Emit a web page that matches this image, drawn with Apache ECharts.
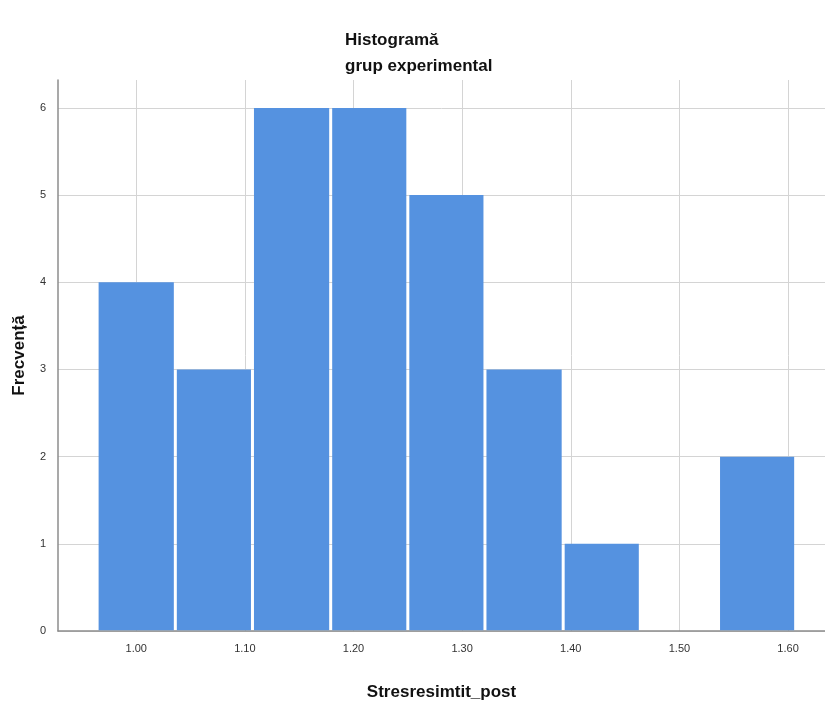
<!DOCTYPE html>
<html>
<head>
<meta charset="utf-8">
<script src="https://cdn.jsdelivr.net/npm/echarts@6/dist/echarts.min.js"></script>
<style>html,body{margin:0;padding:0;background:#fff}#c{width:825px;height:702px}</style>
</head>
<body>
<div id="c"></div>
<script>
// Bin edges (lower, upper) and counts
const binLow  = [0.964, 1.036, 1.107, 1.179, 1.250, 1.321, 1.393, 1.464, 1.536];
const binHigh = [1.036, 1.107, 1.179, 1.250, 1.321, 1.393, 1.464, 1.536, 1.607];
const counts  = [4, 3, 6, 6, 5, 3, 1, 0, 2];
const xTicks  = [1.0, 1.1, 1.2, 1.3, 1.4, 1.5, 1.6];
const yTicks  = [0, 1, 2, 3, 4, 5, 6];
const titleText = 'Histogramă\ngrup experimental';
const xName = 'Stresresimtit_post';
const yName = 'Frecvență';

const data = binLow.map((lo, i) => [lo, binHigh[i], counts[i]]);

const chart = echarts.init(document.getElementById('c'));
chart.setOption({
  animation: false,
  backgroundColor: '#fff',
  title: {
    text: titleText,
    left: 340, top: 22,
    textStyle: { fontFamily: 'Liberation Sans, Arial, sans-serif', fontWeight: 'bold', fontSize: 17, lineHeight: 26, color: '#111' }
  },
  grid: { left: 58, right: 0, top: 80, bottom: 71, outerBoundsMode: 'none', containLabel: false },
  xAxis: {
    type: 'value', min: 0.928, max: 1.634,
    name: xName, nameLocation: 'middle', nameGap: 53,
    nameTextStyle: { fontFamily: 'Liberation Sans, Arial, sans-serif', fontWeight: 'bold', fontSize: 17, color: '#111' },
    axisLine: { show: true, onZero: false, lineStyle: { color: '#8c8c8c', width: 1.5 } },
    axisTick: { show: false, customValues: xTicks },
    axisLabel: { customValues: xTicks, formatter: v => v.toFixed(2), fontSize: 11, color: '#333', margin: 12, fontFamily: 'Liberation Sans, Arial, sans-serif' },
    splitLine: { show: true, lineStyle: { color: '#d4d4d4', width: 1 } }
  },
  yAxis: {
    type: 'value', min: 0, max: 6.32,
    name: yName, nameLocation: 'middle', nameGap: 30,
    nameTextStyle: { fontFamily: 'Liberation Sans, Arial, sans-serif', fontWeight: 'bold', fontSize: 17, color: '#111' },
    axisLine: { show: true, lineStyle: { color: '#8c8c8c', width: 1.5 } },
    axisTick: { show: false, customValues: yTicks },
    axisLabel: { customValues: yTicks, fontSize: 11, color: '#333', margin: 12, fontFamily: 'Liberation Sans, Arial, sans-serif' },
    splitLine: { show: true, lineStyle: { color: '#d4d4d4', width: 1 } }
  },
  series: [{
    type: 'custom',
    data: data,
    encode: { x: [0, 1], y: 2 },
    renderItem: function (params, api) {
      if (!(api.value(2) > 0)) return null;
      const p0 = api.coord([api.value(0), api.value(2)]);
      const p1 = api.coord([api.value(1), 0]);
      const gap = 1.5;
      return {
        type: 'rect',
        shape: { x: p0[0] + gap, y: p0[1], width: p1[0] - p0[0] - 2 * gap, height: Math.max(0, p1[1] - p0[1] - 0.75) },
        style: { fill: '#5592e0' }
      };
    }
  }]
});
</script>
</body>
</html>
